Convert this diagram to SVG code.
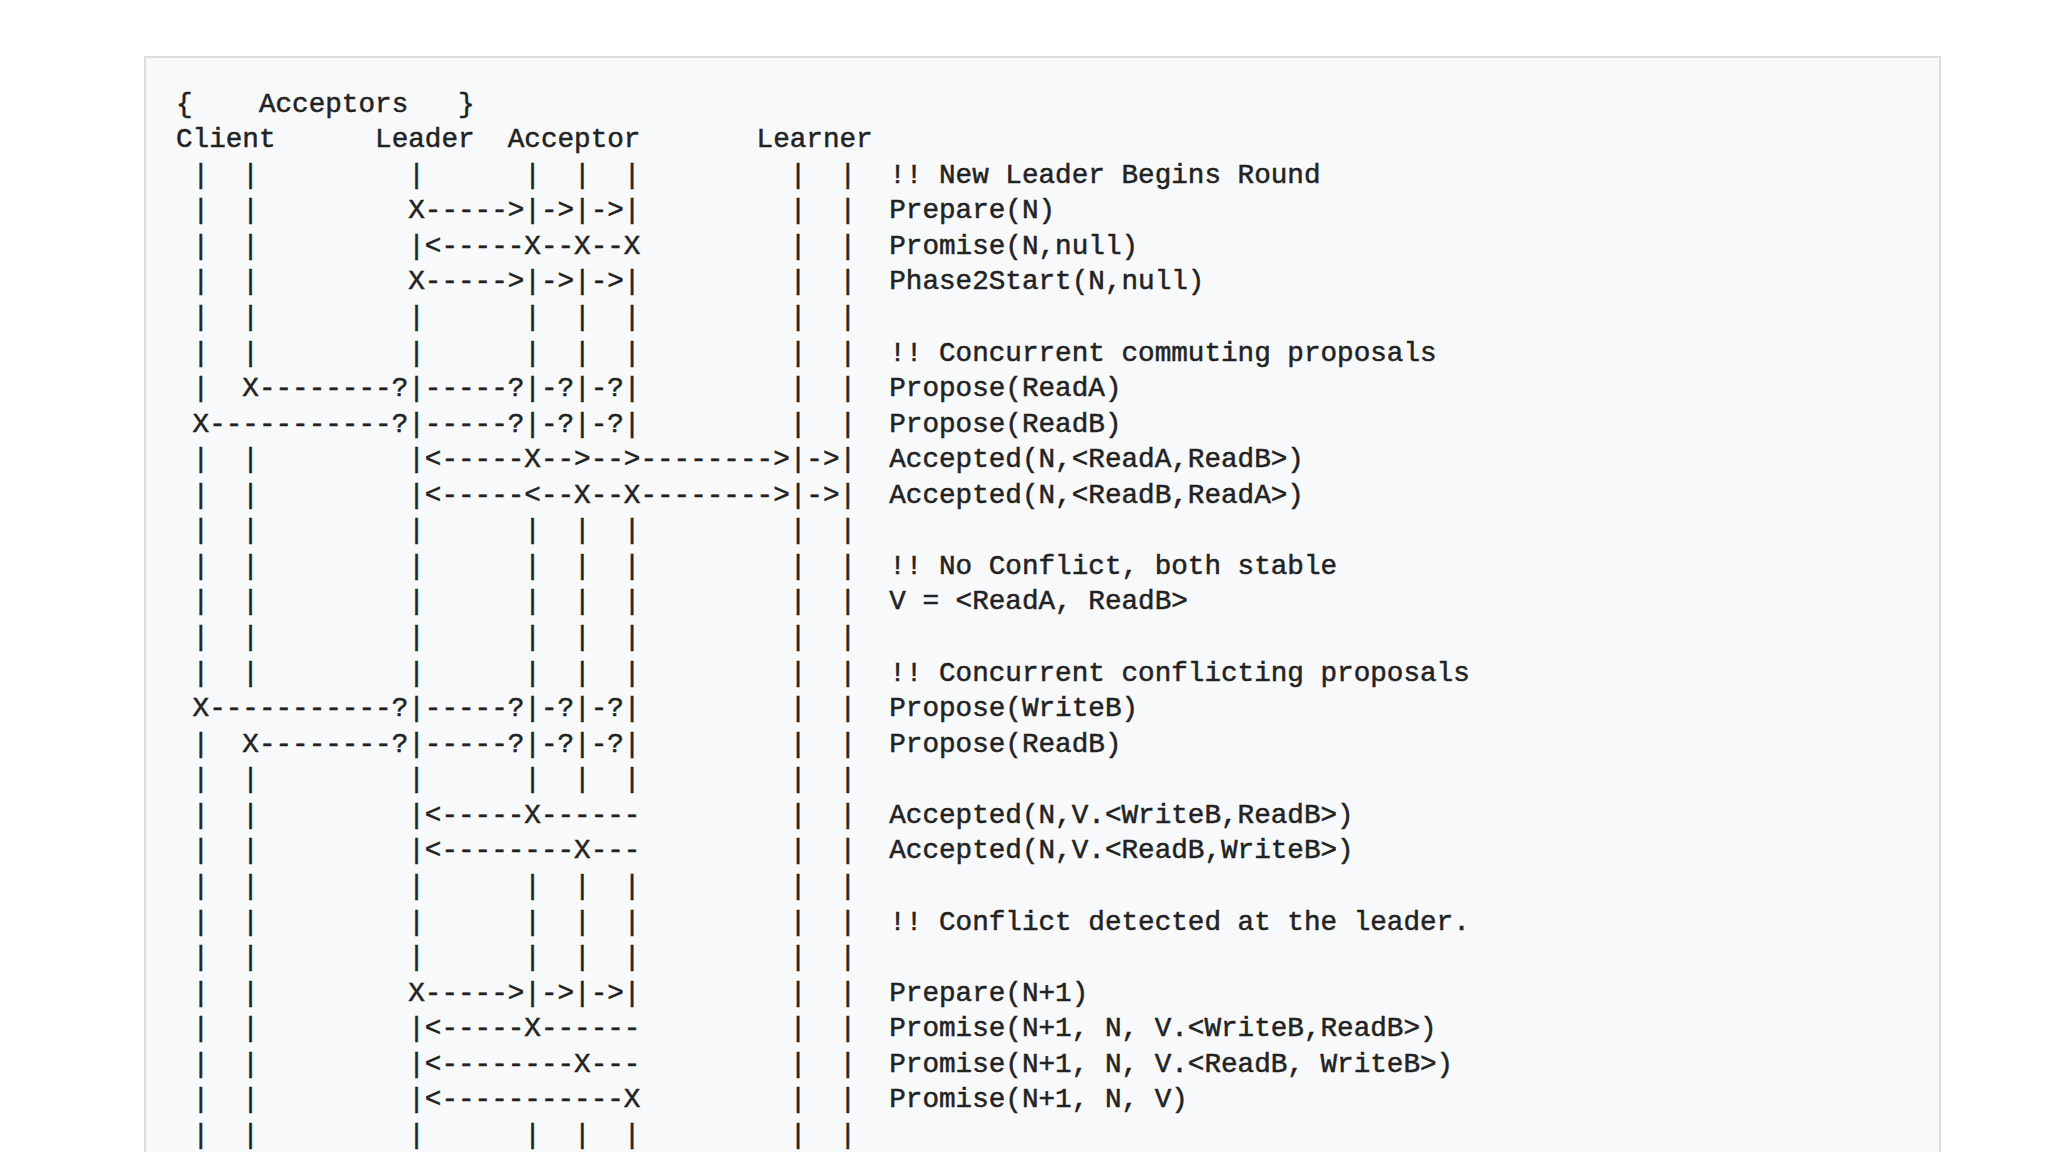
<svg xmlns="http://www.w3.org/2000/svg" width="2048" height="1152" viewBox="0 0 2048 1152">
<style>
  .t { font-family: "Liberation Mono", "DejaVu Sans Mono", monospace; font-size: 27.65px; fill: #222222; stroke: #222222; stroke-width: 0.5px; white-space: pre; }
</style>
<rect x="0" y="0" width="2048" height="1152" fill="#ffffff"/>
<rect id="pre-box" x="145" y="57" width="1795" height="1140" fill="#f8f9fa" stroke="#dddddd" stroke-width="2"/>
<g id="ascii" xml:space="preserve">
<text class="t" x="176" y="111.6">{    Acceptors   }</text>
<text class="t" x="176" y="147.1">Client      Leader  Acceptor       Learner</text>
<text class="t" x="176" y="182.7"> |  |         |      |  |  |         |  |  !! New Leader Begins Round</text>
<text class="t" x="176" y="218.3"> |  |         X-----&gt;|-&gt;|-&gt;|         |  |  Prepare(N)</text>
<text class="t" x="176" y="253.8"> |  |         |&lt;-----X--X--X         |  |  Promise(N,null)</text>
<text class="t" x="176" y="289.4"> |  |         X-----&gt;|-&gt;|-&gt;|         |  |  Phase2Start(N,null)</text>
<text class="t" x="176" y="324.9"> |  |         |      |  |  |         |  |</text>
<text class="t" x="176" y="360.5"> |  |         |      |  |  |         |  |  !! Concurrent commuting proposals</text>
<text class="t" x="176" y="396.1"> |  X--------?|-----?|-?|-?|         |  |  Propose(ReadA)</text>
<text class="t" x="176" y="431.6"> X-----------?|-----?|-?|-?|         |  |  Propose(ReadB)</text>
<text class="t" x="176" y="467.2"> |  |         |&lt;-----X--&gt;--&gt;--------&gt;|-&gt;|  Accepted(N,&lt;ReadA,ReadB&gt;)</text>
<text class="t" x="176" y="502.7"> |  |         |&lt;-----&lt;--X--X--------&gt;|-&gt;|  Accepted(N,&lt;ReadB,ReadA&gt;)</text>
<text class="t" x="176" y="538.3"> |  |         |      |  |  |         |  |</text>
<text class="t" x="176" y="573.9"> |  |         |      |  |  |         |  |  !! No Conflict, both stable</text>
<text class="t" x="176" y="609.4"> |  |         |      |  |  |         |  |  V = &lt;ReadA, ReadB&gt;</text>
<text class="t" x="176" y="645.0"> |  |         |      |  |  |         |  |</text>
<text class="t" x="176" y="680.5"> |  |         |      |  |  |         |  |  !! Concurrent conflicting proposals</text>
<text class="t" x="176" y="716.1"> X-----------?|-----?|-?|-?|         |  |  Propose(WriteB)</text>
<text class="t" x="176" y="751.7"> |  X--------?|-----?|-?|-?|         |  |  Propose(ReadB)</text>
<text class="t" x="176" y="787.2"> |  |         |      |  |  |         |  |</text>
<text class="t" x="176" y="822.8"> |  |         |&lt;-----X------         |  |  Accepted(N,V.&lt;WriteB,ReadB&gt;)</text>
<text class="t" x="176" y="858.3"> |  |         |&lt;--------X---         |  |  Accepted(N,V.&lt;ReadB,WriteB&gt;)</text>
<text class="t" x="176" y="893.9"> |  |         |      |  |  |         |  |</text>
<text class="t" x="176" y="929.5"> |  |         |      |  |  |         |  |  !! Conflict detected at the leader.</text>
<text class="t" x="176" y="965.0"> |  |         |      |  |  |         |  |</text>
<text class="t" x="176" y="1000.6"> |  |         X-----&gt;|-&gt;|-&gt;|         |  |  Prepare(N+1)</text>
<text class="t" x="176" y="1036.1"> |  |         |&lt;-----X------         |  |  Promise(N+1, N, V.&lt;WriteB,ReadB&gt;)</text>
<text class="t" x="176" y="1071.7"> |  |         |&lt;--------X---         |  |  Promise(N+1, N, V.&lt;ReadB, WriteB&gt;)</text>
<text class="t" x="176" y="1107.3"> |  |         |&lt;-----------X         |  |  Promise(N+1, N, V)</text>
<text class="t" x="176" y="1142.8"> |  |         |      |  |  |         |  |</text>
</g>
</svg>
